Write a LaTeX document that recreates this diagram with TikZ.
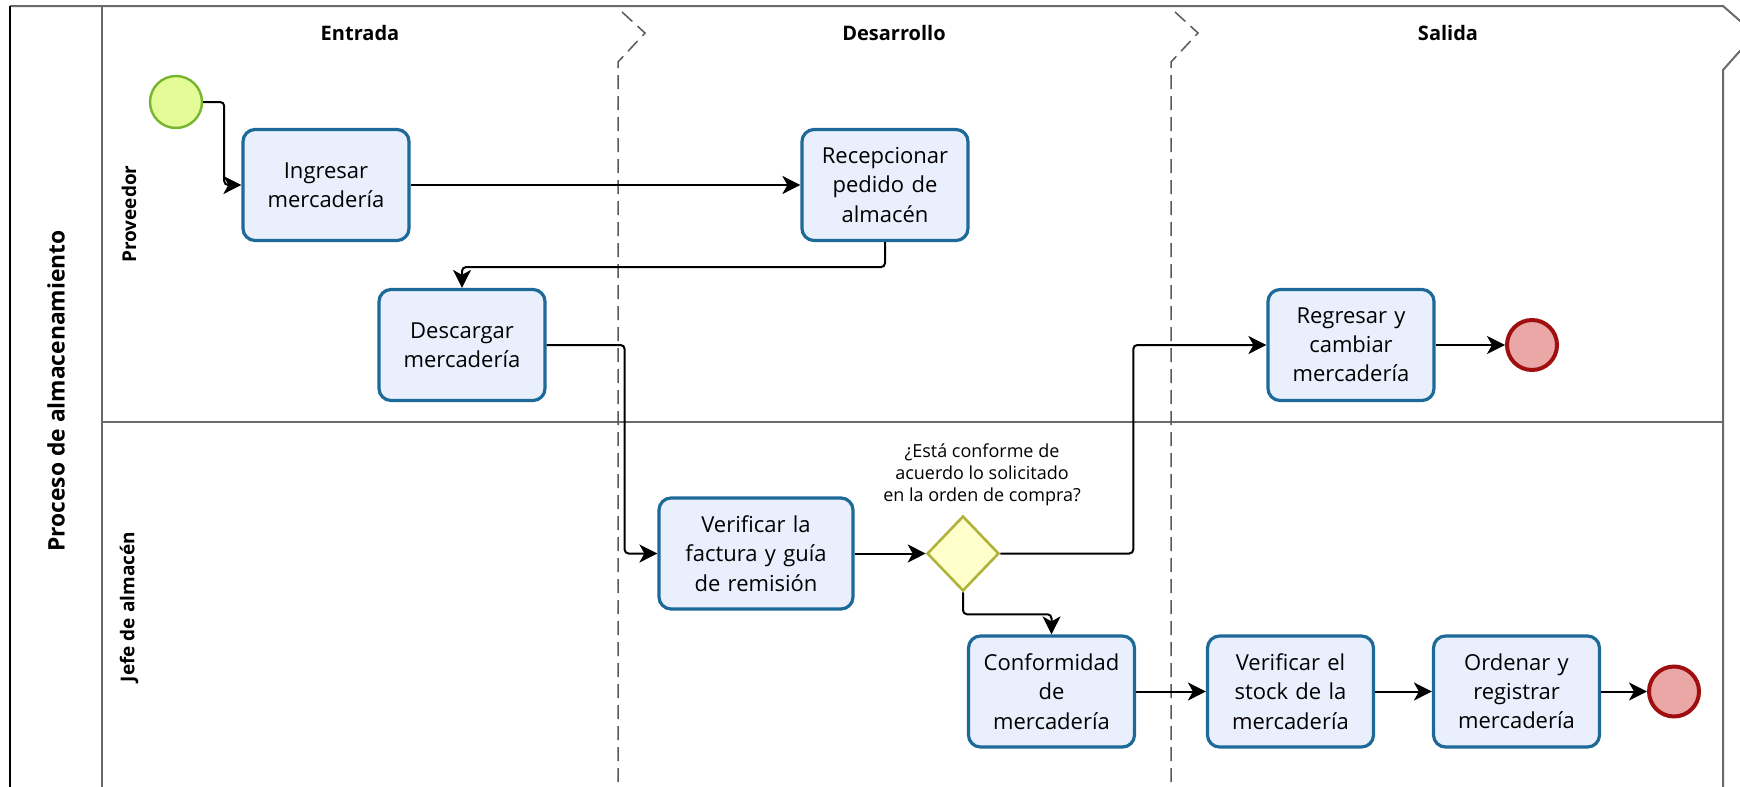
\documentclass[tikz,border=0pt]{standalone}
\usepackage{fontspec}
\setmainfont{Open Sans}
\usetikzlibrary{arrows.meta,shapes.geometric}
\definecolor{taskfill}{HTML}{EAEFFD}
\definecolor{taskdraw}{HTML}{1D6A98}
\definecolor{startfill}{HTML}{E3FC97}
\definecolor{startdraw}{HTML}{78B52E}
\definecolor{endfill}{HTML}{EBA6A6}
\definecolor{enddraw}{HTML}{A00F0F}
\definecolor{gatefill}{HTML}{FFFFCC}
\definecolor{gatedraw}{HTML}{B1B23A}
\definecolor{lanegray}{HTML}{6A6A6A}
\tikzset{
	task/.style={draw=taskdraw, fill=taskfill, line width=1.6pt, rounded corners=6pt,
		minimum width=83pt, minimum height=55.5pt, text width=80pt, inner sep=0pt,
		align=center, font=\fontsize{11}{14.6}\selectfont},
	startev/.style={circle, draw=startdraw, fill=startfill, line width=1.2pt, minimum size=26pt, inner sep=0pt},
	endev/.style={circle, draw=enddraw, fill=endfill, line width=2pt, minimum size=25pt, inner sep=0pt},
	gateway/.style={diamond, draw=gatedraw, fill=gatefill, line width=1.3pt, minimum width=36pt, minimum height=37.5pt, inner sep=0pt},
	flow/.style={line width=1pt, rounded corners=2pt, -{Stealth[length=9pt,width=9pt,inset=2.5pt]}},
	sep/.style={black!65, line width=0.75pt, dash pattern=on 7pt off 3.5pt},
	header/.style={font=\fontsize{10}{12}\selectfont\bfseries},
	lanelabel/.style={rotate=90, font=\fontsize{9.5}{11}\selectfont\bfseries},
}
\begin{document}
\begin{tikzpicture}[x=0.5pt, y=-0.5pt]
	\clip (0,0) rectangle (1740,787);
	% Draw pool and lanes
	\draw[lanegray, line width=1pt] (10,6) -- (1723,6) -- (1755,34) -- (1723,70) -- (1723,795);
	\draw[line width=1.2pt] (10,6) -- (10,795);
	\draw[lanegray, line width=1pt] (102,6) -- (102,795);
	\draw[lanegray, line width=1pt] (102,422) -- (1723,422);
	\draw[sep] (622,12) -- (645,33) -- (618,62) -- (618,795);
	\draw[sep] (1175,12) -- (1198,33) -- (1171,62) -- (1171,795);
	\node[rotate=90, font=\fontsize{11.4}{13}\selectfont\bfseries] (pool) at (56,391) {Proceso de almacenamiento};
	\node[lanelabel] (proveedor) at (129,214) {Proveedor};
	\node[lanelabel] (jefe) at (129,607) {Jefe de almacén};
	\node[header] (entrada) at (360,33) {Entrada};
	\node[header] (desarrollo) at (894,33) {Desarrollo};
	\node[header] (salida) at (1448,33) {Salida};
	% Proveedor
	\node[startev] (start) at (176,102) {};
	\node[task] (ingresar) at (326,185) {Ingresar\\mercadería};
	\node[task] (recepcionar) at (885,185) {Recepcionar\\pedido de\\almacén};
	\node[task] (descargar) at (462,345) {Descargar\\mercadería};
	\node[task] (regresar) at (1351,345) {Regresar y\\cambiar\\mercadería};
	\node[endev] (fin1) at (1532,345) {};
	% Jefe de almacen
	\node[task, minimum width=97pt, text width=94pt] (verfactura) at (756,553.5) {Verificar la\\factura y guía\\de remisión};
	\node[gateway] (gw) at (963,553.5) {};
	\node[align=center, font=\fontsize{9}{11}\selectfont] (gwlabel) at (982,475) {¿Está conforme de\\acuerdo lo solicitado\\en la orden de compra?};
	\node[task] (conformidad) at (1051.5,691.5) {Conformidad\\de\\mercadería};
	\node[task] (verstock) at (1290.5,691.5) {Verificar el\\stock de la\\mercadería};
	\node[task] (ordenar) at (1516.5,691.5) {Ordenar y\\registrar\\mercadería};
	\node[endev] (fin2) at (1674,691.5) {};
	% Flows
	\draw[flow] (start.east) -- ++(21,0) |- (ingresar.west);
	\draw[flow] (ingresar) -- (recepcionar);
	\draw[flow] (recepcionar.south) -- ++(0,25) -| (descargar.north);
	\draw[flow] (descargar.east) -- ++(78,0) |- (verfactura.west);
	\draw[flow] (verfactura) -- (gw);
	\draw[flow] (gw.east) -- ++(133,0) |- (regresar.west);
	\draw[flow] (regresar) -- (fin1);
	\draw[flow] (gw.south) -- ++(0,22) -| (conformidad.north);
	\draw[flow] (conformidad) -- (verstock);
	\draw[flow] (verstock) -- (ordenar);
	\draw[flow] (ordenar) -- (fin2);
\end{tikzpicture}
\end{document}
